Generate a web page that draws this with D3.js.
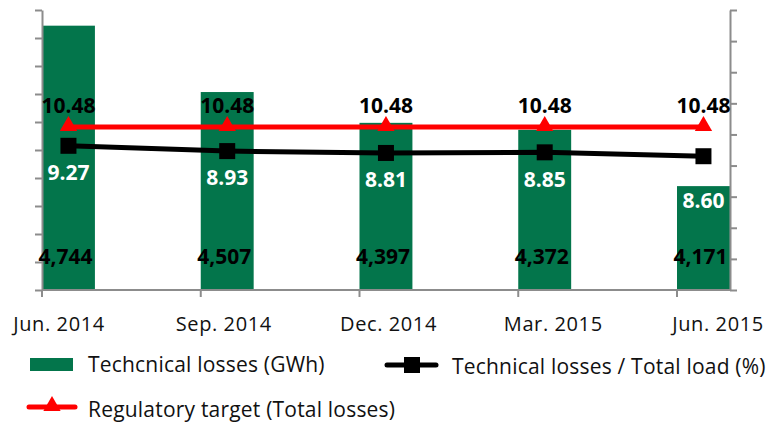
<!DOCTYPE html>
<html>
<head>
<meta charset="utf-8">
<script src="https://cdn.jsdelivr.net/npm/d3@7"></script>
<style>
  html, body { margin: 0; padding: 0; background: #fff; }
  svg { display: block; font-family: "Open Sans", sans-serif; }
</style>
</head>
<body>
<svg id="chart" width="769" height="426"></svg>
<script>
// Quarterly technical losses against total load and the regulatory target
const categories = ["Jun. 2014", "Sep. 2014", "Dec. 2014", "Mar. 2015", "Jun. 2015"];
const technicalLossesGWh = [4744, 4507, 4397, 4372, 4171];
const lossRatioPct = [9.27, 8.93, 8.81, 8.85, 8.60];
const regulatoryTargetPct = [10.48, 10.48, 10.48, 10.48, 10.48];
const legendLabels = ["Techcnical losses (GWh)", "Technical losses / Total load (%)", "Regulatory target (Total losses)"];

const GREEN = "#03754b";
const AXIS = "#8c8c8c";

const svg = d3.select("#chart");

const plot = { left: 42, right: 730, top: 10, bottom: 290 };

// Category positions (tick marks) on the date-style axis
const x = d3.scalePoint().domain(categories).range([plot.left, 677]);
const barW = x.step() / 3;
const cx = c => x(c) + barW / 2;

// Label positions under the axis
const xLabel = d3.scalePoint().domain(categories).range([59, 718]);

const yLeft = d3.scaleLinear().domain([3800, 4800]).range([plot.bottom, plot.top]);
const yRight = d3.scaleLinear().domain([0, 18]).range([plot.bottom, plot.top]);

const rows = categories.map((c, i) => ({
  c, gwh: technicalLossesGWh[i], pct: lossRatioPct[i], target: regulatoryTargetPct[i]
}));

// Bars
svg.append("g").selectAll("rect").data(rows).join("rect")
  .attr("x", d => x(d.c))
  .attr("y", d => yLeft(d.gwh))
  .attr("width", barW)
  .attr("height", d => plot.bottom - yLeft(d.gwh))
  .attr("fill", GREEN);

// Axes
const styleAxis = g => {
  g.selectAll("path.domain").attr("stroke", AXIS).attr("stroke-width", 2);
  g.selectAll(".tick line").attr("stroke", AXIS).attr("stroke-width", 2);
  g.selectAll(".tick text").remove();
};

svg.append("g")
  .attr("transform", `translate(${plot.left},0)`)
  .call(d3.axisLeft(yLeft).ticks(10).tickSize(7).tickSizeOuter(0))
  .call(styleAxis);

svg.append("g")
  .attr("transform", `translate(${plot.right},0)`)
  .call(d3.axisRight(yRight).ticks(9).tickSize(7).tickSizeOuter(0))
  .call(styleAxis);

const xAxis = svg.append("g");
xAxis.append("line")
  .attr("x1", plot.left).attr("x2", plot.right)
  .attr("y1", plot.bottom).attr("y2", plot.bottom)
  .attr("stroke", AXIS).attr("stroke-width", 2);
xAxis.selectAll("line.tk").data(categories).join("line")
  .attr("class", "tk")
  .attr("x1", d => x(d)).attr("x2", d => x(d))
  .attr("y1", plot.bottom).attr("y2", plot.bottom + 7)
  .attr("stroke", AXIS).attr("stroke-width", 2);
xAxis.selectAll("text").data(categories).join("text")
  .attr("x", d => xLabel(d))
  .attr("y", 331)
  .attr("text-anchor", "middle")
  .attr("font-size", 20)
  .attr("letter-spacing", 0.6)
  .attr("fill", "#111")
  .text(d => d);

// Lines
const lineFor = (yScale, key) => d3.line().x(d => cx(d.c)).y(d => yScale(d[key]));

svg.append("path").datum(rows)
  .attr("d", lineFor(yRight, "pct"))
  .attr("fill", "none").attr("stroke", "#000").attr("stroke-width", 5);

svg.append("path").datum(rows)
  .attr("d", lineFor(yRight, "target"))
  .attr("fill", "none").attr("stroke", "#ff0000").attr("stroke-width", 5);

const tri = d3.symbol().type(d3.symbolTriangle).size(130);
const sq = d3.symbol().type(d3.symbolSquare).size(256);

svg.append("g").selectAll("path").data(rows).join("path")
  .attr("transform", d => `translate(${cx(d.c)},${yRight(d.pct)})`)
  .attr("d", sq).attr("fill", "#000");

svg.append("g").selectAll("path").data(rows).join("path")
  .attr("transform", d => `translate(${cx(d.c)},${yRight(d.target) - 1})`)
  .attr("d", tri).attr("fill", "#ff0000");

// Data labels
const labels = svg.append("g").attr("font-weight", 700).attr("font-size", 21).attr("text-anchor", "middle");

labels.selectAll("text.target").data(rows).join("text")
  .attr("class", "target")
  .attr("x", d => cx(d.c))
  .attr("y", d => yRight(d.target) - 21)
  .attr("dy", "0.35em")
  .attr("fill", "#000")
  .text(d => d3.format(".2f")(d.target));

labels.selectAll("text.pct").data(rows).join("text")
  .attr("class", "pct")
  .attr("x", d => cx(d.c))
  .attr("y", d => Math.max(yRight(d.pct) + 27, yLeft(d.gwh) + 15))
  .attr("dy", "0.35em")
  .attr("fill", "#fff")
  .text(d => d3.format(".2f")(d.pct));

labels.selectAll("text.gwh").data(rows).join("text")
  .attr("class", "gwh")
  .attr("x", d => cx(d.c) - 3)
  .attr("y", 257)
  .attr("dy", "0.35em")
  .attr("fill", "#000")
  .text(d => d3.format(",")(d.gwh));

// Legend
const legend = svg.append("g").attr("font-size", 21).attr("letter-spacing", 0.2).attr("fill", "#111");

legend.append("rect").attr("x", 30).attr("y", 358).attr("width", 43).attr("height", 13).attr("fill", GREEN);
legend.append("text").attr("x", 88).attr("y", 365).attr("dy", "0.35em").text(legendLabels[0]);

legend.append("line").attr("x1", 387).attr("x2", 436).attr("y1", 365).attr("y2", 365)
  .attr("stroke", "#000").attr("stroke-width", 5).attr("stroke-linecap", "round");
legend.append("path").attr("transform", "translate(412,365)").attr("d", sq).attr("fill", "#000");
legend.append("text").attr("x", 452).attr("y", 367).attr("dy", "0.35em").text(legendLabels[1]);

legend.append("line").attr("x1", 29).attr("x2", 75).attr("y1", 407).attr("y2", 407)
  .attr("stroke", "#ff0000").attr("stroke-width", 5).attr("stroke-linecap", "round");
legend.append("path").attr("transform", "translate(52,406)").attr("d", tri).attr("fill", "#ff0000");
legend.append("text").attr("x", 88).attr("y", 410).attr("dy", "0.35em").text(legendLabels[2]);
</script>
</body>
</html>
